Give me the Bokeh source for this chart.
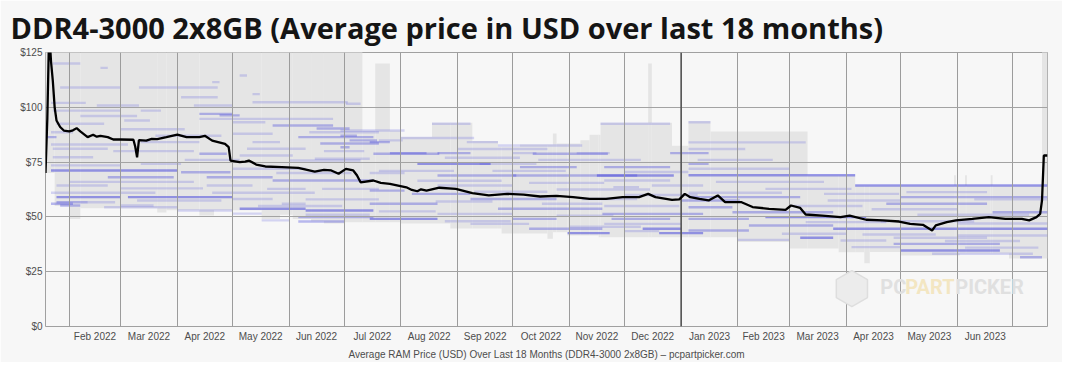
import numpy as np
import pandas as pd
from bokeh.plotting import figure
from bokeh.models import (FixedTicker, NumeralTickFormatter, DatetimeTickFormatter,
                          Span, Label, ColumnDataSource, Range1d)
from bokeh.embed import file_html
from bokeh.resources import INLINE

# ---------------- data ----------------
TITLE = "DDR4-3000 2x8GB (Average price in USD over last 18 months)"
X_LABEL = "Average RAM Price (USD) Over Last 18 Months (DDR4-3000 2x8GB) \u2013 pcpartpicker.com"
START, END = "2022-01-19", "2023-07-20"

month_starts = ["2022-02-01", "2022-03-01", "2022-04-01", "2022-05-01", "2022-06-01",
                "2022-07-01", "2022-08-01", "2022-09-01", "2022-10-01", "2022-11-01",
                "2022-12-01", "2023-01-01", "2023-02-01", "2023-03-01", "2023-04-01",
                "2023-05-01", "2023-06-01", "2023-07-01"]
y_ticks = [0, 25, 50, 75, 100, 125]

avg_dates = ["2022-01-19", "2022-01-20", "2022-01-21", "2022-01-22", "2022-01-23", "2022-01-24",
             "2022-01-25", "2022-01-27", "2022-01-29", "2022-02-01", "2022-02-03", "2022-02-05",
             "2022-02-07", "2022-02-11", "2022-02-14", "2022-02-16", "2022-02-18", "2022-02-22",
             "2022-02-25", "2022-03-01", "2022-03-08", "2022-03-09", "2022-03-10", "2022-03-11",
             "2022-03-15", "2022-03-18", "2022-03-21", "2022-03-26", "2022-04-01", "2022-04-06",
             "2022-04-13", "2022-04-16", "2022-04-20", "2022-04-27", "2022-04-29", "2022-04-30",
             "2022-05-05", "2022-05-08", "2022-05-10", "2022-05-14", "2022-05-19", "2022-05-28",
             "2022-06-06", "2022-06-15", "2022-06-20", "2022-06-24", "2022-06-28", "2022-07-02",
             "2022-07-06", "2022-07-08", "2022-07-10", "2022-07-17", "2022-07-21", "2022-07-26",
             "2022-08-04", "2022-08-07", "2022-08-10", "2022-08-12", "2022-08-15", "2022-08-22",
             "2022-08-31", "2022-09-09", "2022-09-18", "2022-09-28", "2022-10-07", "2022-10-16",
             "2022-10-25", "2022-11-03", "2022-11-12", "2022-11-21", "2022-11-30", "2022-12-09",
             "2022-12-14", "2022-12-18", "2022-12-27", "2022-12-31", "2023-01-03", "2023-01-06",
             "2023-01-11", "2023-01-16", "2023-01-21", "2023-01-25", "2023-02-03", "2023-02-09",
             "2023-02-18", "2023-02-27", "2023-03-02", "2023-03-07", "2023-03-10", "2023-03-19",
             "2023-03-29", "2023-04-03", "2023-04-12", "2023-04-21", "2023-04-30", "2023-05-06",
             "2023-05-13", "2023-05-18", "2023-05-20", "2023-05-26", "2023-05-31", "2023-06-09",
             "2023-06-18", "2023-06-27", "2023-07-06", "2023-07-10", "2023-07-14", "2023-07-16",
             "2023-07-17", "2023-07-18", "2023-07-20"]
avg_price = [70, 95, 135, 121, 112, 100,
             94, 91, 89.4, 89, 89.5, 90.5,
             89, 86.4, 87.5, 86.6, 87, 86.4,
             85.3, 85.3, 85.2, 82, 77.2, 85,
             84.8, 85.6, 85.5, 86.4, 87.5, 86.4,
             86.4, 87, 84.8, 83.3, 81.8, 75.7,
             75, 75.2, 75.7, 73.9, 73, 72.7,
             72.4, 70.7, 71.5, 71.2, 69.7, 71.9,
             71.2, 69, 65.8, 66.6, 65.5, 65.1,
             63.5, 62.3, 61.7, 62.6, 62, 63.3,
             62.8, 60.8, 59.8, 60.5, 60.2, 59.3,
             59.6, 59, 58.2, 58.2, 59, 59,
             60.5, 59, 57.8, 58, 60.5, 59,
             58.2, 57.5, 59.8, 56.7, 56.7, 54.5,
             53.7, 53.2, 55.2, 54.1, 51.1, 50.6,
             49.9, 50.6, 48.7, 48.4, 47.9, 46.8,
             46.4, 43.8, 46.1, 47.6, 48.4, 49.1,
             49.9, 49.1, 49.1, 48.4, 49.9, 51.4,
             57.5, 78, 78]

# highest listed price (step starts)
high_dates = ["2022-01-19", "2022-07-11", "2022-07-18", "2022-07-26", "2022-08-01", "2022-08-18",
              "2022-09-09", "2022-09-23", "2022-10-05", "2022-10-23", "2022-10-25", "2022-11-07",
              "2022-11-12", "2022-11-18", "2022-12-14", "2022-12-16", "2022-12-27", "2023-01-05",
              "2023-01-17", "2023-03-11", "2023-04-06", "2023-05-30", "2023-05-31", "2023-06-05",
              "2023-06-06", "2023-06-19", "2023-06-20", "2023-07-17"]
high_price = [140, 89.4, 120, 89.4, 86.4, 92.9,
              84.6, 82, 83, 88, 83.5, 85,
              87.5, 92.9, 120, 92.9, 82.5, 93.6,
              89, 69, 64.3, 69, 64.3, 69,
              64.3, 69, 64.3, 140]

# lowest listed price (step starts)
low_dates = ["2022-01-19", "2022-01-24", "2022-02-01", "2022-02-07", "2022-03-21", "2022-03-26",
             "2022-04-13", "2022-04-21", "2022-05-17", "2022-05-27", "2022-06-03", "2022-06-13",
             "2022-06-20", "2022-07-01", "2022-08-01", "2022-08-28", "2022-09-25", "2022-10-20",
             "2022-10-23", "2022-10-31", "2022-11-17", "2023-02-01", "2023-03-01", "2023-03-28",
             "2023-04-11", "2023-04-14", "2023-05-01", "2023-06-02", "2023-06-29"]
low_price = [70, 55, 49, 54, 52, 53,
             50.6, 53, 49, 51, 49, 48,
             47, 47.6, 47, 44.7, 42.4, 40,
             43, 41.5, 40.7, 38.5, 35.6, 33.9,
             28.9, 34, 32.4, 33.3, 31]

# individual retailer listings: (from, to, price USD, number of listings)
offers_2022_h1 = [
    ("2022-01-23", "2022-02-07", 120, 1), ("2022-02-18", "2022-02-22", 118, 1),
    ("2022-05-05", "2022-05-09", 114.5, 1), ("2022-01-27", "2022-03-01", 109, 1),
    ("2022-03-11", "2022-04-23", 109, 1), ("2022-04-20", "2022-04-24", 111.5, 1),
    ("2022-05-12", "2022-05-16", 106, 1), ("2022-05-12", "2022-07-03", 102.3, 1),
    ("2022-02-16", "2022-03-11", 100.8, 1), ("2022-04-10", "2022-05-01", 100.8, 1),
    ("2022-04-03", "2022-04-23", 104.6, 1), ("2022-01-23", "2022-03-01", 98.5, 1),
    ("2022-03-12", "2022-03-23", 98.5, 1), ("2022-04-13", "2022-05-01", 97, 2),
    ("2022-04-13", "2022-06-25", 94.7, 1), ("2022-05-23", "2022-06-25", 91.7, 2),
    ("2022-05-01", "2022-05-19", 93.2, 1), ("2022-06-12", "2022-07-20", 88.6, 1),
    ("2022-01-20", "2022-01-25", 86.4, 2), ("2022-04-24", "2022-05-05", 96.3, 2),
    ("2022-03-03", "2022-03-17", 94, 1), ("2022-06-16", "2022-07-04", 90.3, 2),
    ("2022-01-22", "2022-02-03", 88.6, 1), ("2022-05-01", "2022-05-23", 87.9, 1),
    ("2022-06-06", "2022-07-17", 86.4, 2), ("2022-03-12", "2022-04-13", 84.1, 1),
    ("2022-05-12", "2022-05-27", 84.1, 1), ("2022-06-18", "2022-07-20", 83.5, 2),
    ("2022-01-23", "2022-02-22", 81.1, 1), ("2022-05-09", "2022-06-10", 81.1, 1),
    ("2022-04-13", "2022-04-28", 78.8, 2), ("2022-05-05", "2022-06-03", 78, 1),
    ("2022-01-23", "2022-02-14", 77.2, 1), ("2022-06-01", "2022-07-10", 75.7, 1),
    ("2022-03-12", "2022-04-03", 74.2, 1), ("2022-01-22", "2022-04-01", 71.2, 3),
    ("2022-04-03", "2022-04-30", 70.4, 2), ("2022-02-22", "2022-03-30", 68.1, 2),
    ("2022-04-17", "2022-05-23", 68.1, 2), ("2022-05-23", "2022-07-17", 66.6, 2),
    ("2022-01-25", "2022-02-22", 64.3, 1), ("2022-04-17", "2022-05-12", 64.3, 1),
    ("2022-05-20", "2022-06-10", 62.8, 1), ("2022-06-19", "2022-07-20", 62.8, 1),
    ("2022-01-25", "2022-03-01", 59, 3), ("2022-03-05", "2022-05-01", 59, 3),
    ("2022-05-01", "2022-05-23", 58.2, 1), ("2022-01-22", "2022-02-03", 56, 2),
    ("2022-05-28", "2022-06-10", 56, 1), ("2022-05-05", "2022-06-10", 53.7, 3),
    ("2022-06-10", "2022-07-17", 52.9, 3), ("2022-03-01", "2022-03-19", 55.2, 1),
    ("2022-06-06", "2022-07-17", 49.9, 2), ("2022-02-11", "2022-02-26", 56.7, 1),
    ("2022-01-27", "2022-02-07", 55.2, 2), ("2022-01-25", "2022-02-11", 56.7, 2),
    ("2022-04-01", "2022-05-01", 52.9, 1), ("2022-05-01", "2022-05-17", 51.5, 1),
    ("2022-05-17", "2022-06-01", 48.4, 1), ("2022-06-06", "2022-07-01", 47.9, 2),
]
offers_2022_h2 = [
    ("2022-07-02", "2022-07-10", 101.6, 1), ("2022-06-29", "2022-08-03", 89.4, 1),
    ("2022-06-29", "2022-07-08", 87.1, 2), ("2022-07-04", "2022-07-19", 84.9, 2),
    ("2022-07-20", "2022-08-02", 84.9, 1), ("2022-06-29", "2022-07-04", 81.8, 2),
    ("2022-07-17", "2022-08-22", 78.8, 2), ("2022-10-12", "2022-11-22", 78.8, 2),
    ("2022-08-10", "2022-09-19", 74.2, 3), ("2022-10-05", "2022-11-05", 72.7, 2),
    ("2022-11-16", "2022-12-28", 68.9, 3), ("2022-08-21", "2022-10-03", 68.9, 2),
    ("2022-11-25", "2022-12-09", 63.6, 1), ("2022-08-18", "2022-09-08", 92.5, 1),
    ("2022-11-18", "2022-12-26", 92.5, 1), ("2022-07-15", "2022-07-26", 84.1, 2),
    ("2022-09-06", "2022-09-23", 84.1, 1), ("2022-09-23", "2022-11-08", 82.6, 1),
    ("2022-07-26", "2022-08-15", 79.1, 2), ("2022-08-21", "2022-09-08", 79.1, 2),
    ("2022-10-01", "2022-10-14", 79.1, 1), ("2022-11-05", "2022-11-23", 79.1, 1),
    ("2022-12-26", "2023-01-16", 79.1, 2), ("2022-09-13", "2022-10-14", 74.2, 1),
    ("2022-11-20", "2022-12-26", 72.7, 2), ("2022-10-01", "2022-12-08", 68.9, 2),
    ("2022-07-15", "2022-08-03", 70, 1), ("2022-11-20", "2022-12-26", 66.6, 1),
    ("2022-08-21", "2022-10-01", 64.3, 1), ("2022-12-16", "2023-01-13", 64.3, 1),
    ("2022-07-15", "2022-08-03", 62, 2), ("2022-08-07", "2022-09-08", 60.5, 2),
    ("2022-09-08", "2022-10-25", 58.2, 2), ("2022-11-08", "2022-12-08", 58.2, 1),
    ("2022-07-15", "2022-08-21", 56, 2), ("2022-10-17", "2022-11-19", 56, 1),
    ("2022-09-23", "2022-11-19", 53.7, 2), ("2022-08-21", "2022-10-01", 51.4, 1),
    ("2022-11-19", "2023-01-13", 51.4, 2), ("2022-07-15", "2022-08-21", 49.1, 3),
    ("2022-10-01", "2022-10-25", 49.1, 2), ("2022-11-24", "2022-12-26", 49.1, 2),
    ("2022-09-08", "2022-10-10", 46.8, 1), ("2022-11-20", "2023-01-01", 46.8, 1),
    ("2022-10-10", "2022-11-19", 44.6, 2), ("2022-12-11", "2023-01-01", 44.6, 3),
    ("2022-10-31", "2022-11-23", 42.6, 3), ("2022-12-20", "2023-01-13", 42.6, 3),
]
offers_2023 = [
    ("2023-01-05", "2023-04-06", 69, 3), ("2023-04-06", "2023-07-20", 64.3, 3),
    ("2023-02-16", "2023-04-04", 62.8, 1), ("2023-05-04", "2023-06-17", 61.3, 1),
    ("2023-01-05", "2023-03-07", 59, 2), ("2023-05-01", "2023-07-20", 59, 2),
    ("2023-03-22", "2023-05-01", 57.5, 1), ("2023-04-23", "2023-06-17", 56, 2),
    ("2023-01-05", "2023-01-29", 54.4, 2), ("2023-01-29", "2023-03-25", 52.1, 2),
    ("2023-06-20", "2023-07-20", 52.1, 2), ("2023-02-16", "2023-04-12", 49.9, 3),
    ("2023-01-05", "2023-02-07", 49.1, 2), ("2023-03-10", "2023-04-23", 47.6, 1),
    ("2023-02-07", "2023-03-25", 46.1, 2), ("2023-03-25", "2023-07-20", 44.6, 3),
    ("2023-01-05", "2023-02-07", 43.8, 2), ("2023-02-25", "2023-04-01", 42.3, 1),
    ("2023-03-07", "2023-03-25", 40.5, 3), ("2023-04-27", "2023-06-17", 40.5, 1),
    ("2023-03-29", "2023-04-23", 39.2, 1), ("2023-04-27", "2023-06-24", 37.7, 2),
    ("2023-05-01", "2023-06-24", 34.7, 3), ("2023-05-18", "2023-07-12", 33.2, 1),
    ("2023-07-05", "2023-07-17", 31.6, 2), ("2023-04-04", "2023-05-01", 36.2, 1),
    ("2023-01-05", "2023-02-05", 81, 1), ("2023-01-05", "2023-01-16", 74.2, 2),
    ("2023-01-05", "2023-01-17", 93.2, 1), ("2023-01-01", "2023-02-02", 57.5, 2),
]
offers_single = [
    ("2022-01-22", "2022-02-10", 102, 1), ("2022-02-07", "2022-03-10", 96, 1),
    ("2022-01-25", "2022-02-20", 92.5, 1), ("2022-03-01", "2022-04-05", 90, 1),
    ("2022-03-20", "2022-04-25", 87, 1), ("2022-01-22", "2022-03-05", 83, 1),
    ("2022-02-25", "2022-04-10", 80, 1), ("2022-04-05", "2022-05-05", 76, 1),
    ("2022-01-22", "2022-03-01", 73.5, 1), ("2022-05-01", "2022-06-10", 72, 1),
    ("2022-02-01", "2022-04-10", 66, 1), ("2022-03-01", "2022-04-15", 63, 1),
    ("2022-01-22", "2022-03-20", 61, 1), ("2022-04-20", "2022-06-15", 61, 1),
    ("2022-03-10", "2022-04-25", 57.5, 1), ("2022-02-20", "2022-04-01", 54.4, 1),
    ("2022-05-15", "2022-06-30", 55, 1), ("2022-06-10", "2022-07-15", 51, 1),
    ("2022-06-10", "2022-07-20", 58, 1), ("2022-05-25", "2022-07-05", 70, 1),
    ("2022-06-15", "2022-07-15", 76.5, 1), ("2022-06-20", "2022-07-12", 80, 1),
    ("2022-08-01", "2022-09-10", 86, 1), ("2022-09-01", "2022-10-20", 81, 1),
    ("2022-08-25", "2022-10-05", 77, 1), ("2022-10-15", "2022-12-10", 76, 1),
    ("2022-07-20", "2022-08-30", 71, 1), ("2022-09-20", "2022-10-30", 71, 1),
    ("2022-12-01", "2023-01-05", 70.5, 1), ("2022-08-10", "2022-09-25", 66.5, 1),
    ("2022-10-10", "2022-11-20", 65.5, 1), ("2022-10-25", "2022-12-15", 62.5, 1),
    ("2022-09-10", "2022-10-20", 61.5, 1), ("2022-12-01", "2023-01-10", 60, 1),
    ("2022-08-20", "2022-09-20", 57, 1), ("2022-11-20", "2022-12-31", 55, 1),
    ("2022-07-20", "2022-08-20", 52.5, 1), ("2022-10-25", "2022-11-25", 50.5, 1),
    ("2022-08-25", "2022-09-30", 48, 1), ("2022-11-01", "2022-12-10", 45.5, 1),
    ("2022-12-01", "2022-12-20", 43.5, 1), ("2023-01-05", "2023-03-10", 84, 1),
    ("2023-01-10", "2023-02-20", 76, 1), ("2023-01-05", "2023-03-01", 72, 1),
    ("2023-01-20", "2023-03-20", 66, 1), ("2023-01-05", "2023-02-25", 61, 1),
    ("2023-03-20", "2023-04-30", 60.5, 1), ("2023-06-10", "2023-07-20", 58, 1),
    ("2023-03-01", "2023-04-10", 55, 1), ("2023-04-15", "2023-06-01", 53.5, 1),
    ("2023-05-10", "2023-07-10", 51, 1), ("2023-04-20", "2023-06-10", 48, 1),
    ("2023-06-01", "2023-07-20", 47, 1), ("2023-04-10", "2023-05-20", 42, 1),
    ("2023-06-01", "2023-07-20", 41.5, 1), ("2023-05-25", "2023-07-05", 39, 1),
    ("2023-06-05", "2023-07-15", 36, 1), ("2023-02-01", "2023-03-01", 39.5, 1),
]

# ---------------- derived tables ----------------
t0, t1 = pd.Timestamp(START), pd.Timestamp(END)
ms = lambda t: pd.Timestamp(t).value / 1e6

ms_starts = [ms(d) for d in month_starts]
label_ticks = [(a + b) / 2 for a, b in zip(ms_starts[:-1], ms_starts[1:])]

hd = pd.to_datetime(high_dates)
ld = pd.to_datetime(low_dates)
edges = sorted(set(hd) | set(ld) | {t1})
band = dict(left=[], right=[], top=[], bottom=[])
for a, b in zip(edges[:-1], edges[1:]):
    band["left"].append(a)
    band["right"].append(b)
    band["top"].append(high_price[np.searchsorted(hd, a, side="right") - 1])
    band["bottom"].append(low_price[np.searchsorted(ld, a, side="right") - 1])

offers = offers_2022_h1 + offers_2022_h2 + offers_2023 + offers_single
seg_src = ColumnDataSource(dict(
    x0=pd.to_datetime([o[0] for o in offers]),
    x1=pd.to_datetime([o[1] for o in offers]),
    y=[o[2] for o in offers],
    a=[min(0.2 + 0.17 * (o[3] - 1), 0.56) for o in offers],
))

# ---------------- figure ----------------
p = figure(width=1062, height=362, x_axis_type="datetime",
           x_range=Range1d(t0, t1), y_range=Range1d(0, 125),
           output_backend="svg", toolbar_location=None,
           min_border_left=45, min_border_right=15, min_border_top=52, min_border_bottom=36,
           background_fill_color="#f7f7f7", border_fill_color="#f7f7f7",
           outline_line_color="#a0a0a0")

p.title.text = TITLE
p.title.text_font = "Open Sans"
p.title.text_font_style = "bold"
p.title.text_font_size = "29px"
p.title.text_color = "#151515"
p.title.offset = -35
p.title.standoff = 8
p.title.vertical_align = "top"

r_band = p.quad(left="left", right="right", top="top", bottom="bottom",
                source=ColumnDataSource(band), fill_color="#e5e5e5", line_color=None)
r_band.level = "image"
r_seg = p.segment(x0="x0", y0="y", x1="x1", y1="y", source=seg_src,
                  line_color="#4848dc", line_alpha="a", line_width=2.4)
r_seg.level = "image"

p.line(pd.to_datetime(avg_dates), avg_price, line_color="black", line_width=2.3)

# grid
p.xgrid.ticker = FixedTicker(ticks=ms_starts)
p.xgrid.grid_line_color = "#9c9c9c"
p.ygrid.grid_line_color = "#a3a3a3"
p.add_layout(Span(location=ms("2023-01-01"), dimension="height",
                  line_color="#555555", line_width=1.6, level="underlay"))

# axes
p.yaxis.ticker = FixedTicker(ticks=y_ticks)
p.yaxis.formatter = NumeralTickFormatter(format="$0")
p.xaxis.ticker = FixedTicker(ticks=label_ticks)
fmt = "%b %Y"
p.xaxis.formatter = DatetimeTickFormatter(milliseconds=fmt, seconds=fmt, minsec=fmt, minutes=fmt,
                                          hourmin=fmt, hours=fmt, days=fmt, months=fmt, years=fmt)
for ax in (p.xaxis, p.yaxis):
    ax.axis_line_color = None
    ax.major_tick_line_color = None
    ax.minor_tick_line_color = None
    ax.major_tick_out = 0
    ax.major_tick_in = 0
    ax.minor_tick_out = 0
    ax.major_label_text_font = "Liberation Sans"
    ax.major_label_text_font_size = "10px"
    ax.major_label_text_color = "#4d4d4d"
    ax.major_label_standoff = 4
p.yaxis.major_label_standoff = 3
p.xaxis.axis_label = X_LABEL
p.xaxis.axis_label_text_font = "Liberation Sans"
p.xaxis.axis_label_text_font_size = "10px"
p.xaxis.axis_label_text_font_style = "normal"
p.xaxis.axis_label_text_color = "#4d4d4d"
p.xaxis.axis_label_standoff = 4

# watermark
wm_x, wm_y = ms("2023-04-19 17:00"), 17.8
p.scatter([ms("2023-04-04 05:00")], [17.3], marker="hex", size=36, angle=np.pi / 6,
          fill_color="#ececec", line_color="#dedede", line_width=1.5)
for txt, off, col in (("PC", 0, "#e0e0e0"), ("PART", 25, "#f3e6c2"), ("PICKER", 75, "#e0e0e0")):
    p.add_layout(Label(x=wm_x, y=wm_y, x_offset=off, text=txt, text_font="Roboto",
                       text_font_style="bold", text_font_size="20px", text_color=col,
                       text_baseline="middle"))

html = file_html(p, INLINE)
html = html.replace("<body>", '<body style="background-color:#f0f0f0">', 1)
open("out.html", "w").write(html)
